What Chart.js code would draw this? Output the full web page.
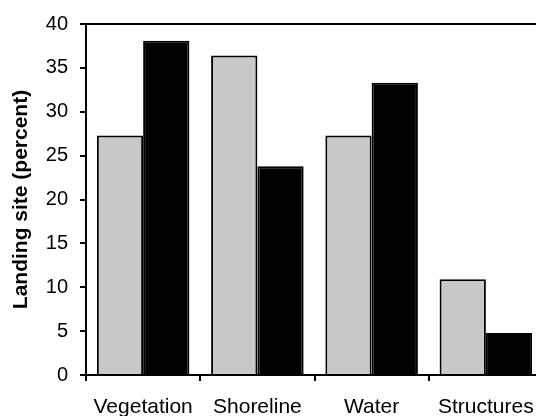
<!DOCTYPE html>
<html>
<head>
<meta charset="utf-8">
<script src="https://cdn.jsdelivr.net/npm/chart.js@4"></script>
<style>
  html, body { margin: 0; padding: 0; background: white; overflow: hidden; }
  canvas { display: block; }
</style>
</head>
<body>
<canvas id="myChart" width="544" height="416"></canvas>
<script>
// categories and the two series
const categories = ['Vegetation', 'Shoreline', 'Water', 'Structures'];
const greyValues = [27.3, 36.4, 27.3, 10.9];
const blackValues = [38.1, 23.8, 33.3, 4.8];
const yTicks = [0, 5, 10, 15, 20, 25, 30, 35, 40];

const ctx = document.getElementById('myChart');
Chart.defaults.font.family = '"Liberation Sans", Arial, Helvetica, sans-serif';
Chart.defaults.color = 'black';

const myChart = new Chart(ctx, {
    type: 'bar',
    data: {
        labels: categories,
        datasets: [
            {
                label: 'grey',
                data: greyValues,
                backgroundColor: '#c8c8c8',
                borderColor: 'black',
                borderWidth: 2
            },
            {
                label: 'black',
                data: blackValues,
                backgroundColor: 'black',
                borderColor: 'black',
                borderWidth: 2
            }
        ]
    },
    options: {
        responsive: false,
        animation: false,
        categoryPercentage: 0.81,
        barPercentage: 1.0,
        layout: {
            padding: { top: 19, right: 1, bottom: 0, left: 0 }
        },
        plugins: {
            legend: { display: false },
            tooltip: { enabled: false }
        },
        scales: {
            x: {
                position: 'bottom',
                afterFit: (scale) => {
                    scale.height = 41;
                    // keep the plot running off the right edge like the original
                    scale.paddingLeft = 0;
                    scale.paddingRight = 0;
                },
                border: { display: true, color: 'black', width: 2 },
                grid: {
                    display: true,
                    offset: true,
                    drawOnChartArea: false,
                    drawTicks: true,
                    tickLength: 6,
                    color: 'black',
                    lineWidth: 2
                },
                ticks: {
                    font: { size: 21 },
                    padding: 14,
                    maxRotation: 0
                }
            },
            xTop: {
                type: 'category',
                position: 'top',
                labels: categories,
                afterFit: (scale) => { scale.height = 0; },
                border: { display: true, color: 'black', width: 2 },
                grid: { display: false },
                ticks: { display: false }
            },
            y: {
                min: 0,
                max: 40,
                afterFit: (scale) => { scale.width = 86; },
                afterBuildTicks: (scale) => {
                    scale.ticks = yTicks.map(v => ({ value: v }));
                },
                border: { display: true, color: 'black', width: 2 },
                grid: {
                    display: true,
                    drawOnChartArea: false,
                    drawTicks: true,
                    tickLength: 6,
                    color: 'black',
                    lineWidth: 2
                },
                ticks: {
                    font: { size: 20 },
                    padding: 12
                },
                title: {
                    display: true,
                    text: 'Landing site (percent)',
                    font: { size: 21, weight: 'bold' },
                    padding: { top: 9, bottom: 0 }
                }
            }
        }
    }
});
</script>
</body>
</html>
